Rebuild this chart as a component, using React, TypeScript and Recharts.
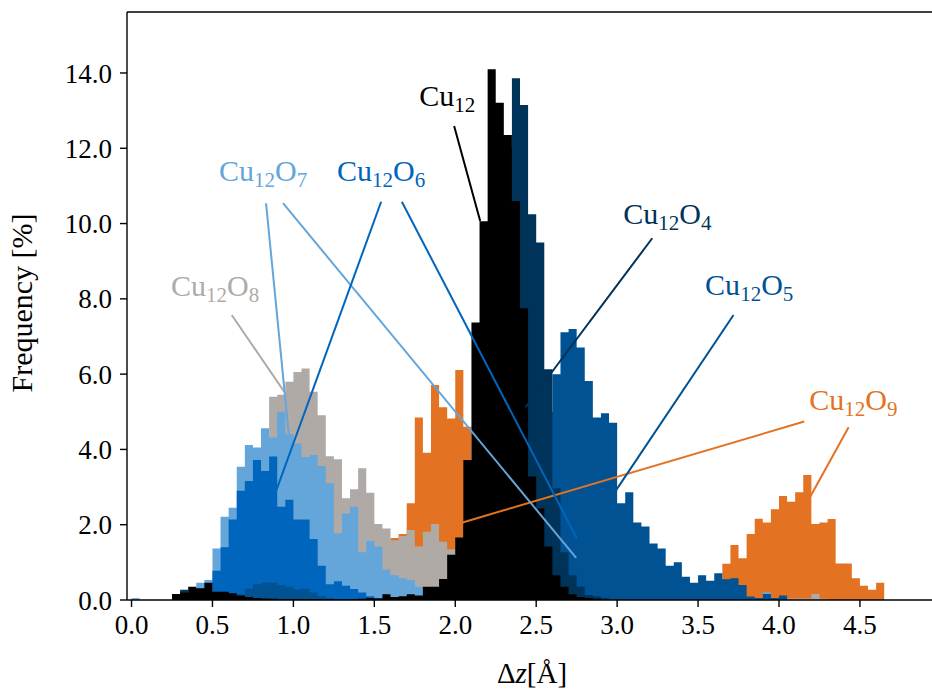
import React from "react";
import {
  ComposedChart,
  Area,
  XAxis,
  YAxis,
  ReferenceLine,
  ReferenceDot,
  Label,
} from "recharts";

// histogram bin width in Å
const BIN = 0.05;

// bin heights [%]; each run of bins starts at the given left edge
const cu12Start = 0.25;
const cu12Freq = [
  0.16, 0.2, 0.35, 0.31, 0.46, 0.22, 0.22, 0.18, 0.12, 0.08, 0.05, 0.04, 0.03,
  0.02, 0.02, 0.02, 0.02, 0.02, 0.02, 0.02, 0.02, 0.02, 0.02, 0.03, 0.05, 0.04,
  0.15, 0.08, 0.1, 0.15, 0.12, 0.35, 0.35, 0.56, 1.2, 1.66, 3.72, 7.37, 10.06,
  14.1, 13.21, 12.35, 10.6, 7.75, 3.28, 2.43, 1.42, 0.66, 0.35, 0.15, 0.08,
  0.05, 0.03,
];

const cu12o4LowStart = 0.3;
const cu12o4Low = [0.27, 0.1, 0.05, 0.02];
const cu12o4Start = 1.8;
const cu12o4Freq = [
  0.05, 0.1, 0.2, 0.5, 1.0, 2.0, 3.5, 5.5, 8.0, 10.5, 12.0, 13.86, 13.15,
  10.25, 9.5, 6.13, 2.97, 1.27, 0.66, 0.35, 0.13, 0.09, 0.05,
];

const cu12o5LowStart = 0.6;
const cu12o5Low = [
  0.08, 0.15, 0.3, 0.42, 0.46, 0.46, 0.4, 0.35, 0.28, 0.3, 0.2, 0.1, 0.05,
];
const cu12o5Start = 2.2;
const cu12o5Freq = [
  0.03, 0.05, 0.5, 1.2, 2.2, 3.2, 4.2, 5.0, 6.0, 7.11, 7.2, 6.71, 5.82, 4.85,
  4.96, 4.71, 2.57, 2.86, 2.06, 1.95, 1.5, 1.37, 0.91, 1.0, 0.62, 0.46, 0.66,
  0.51, 0.71, 0.55, 0.58, 0.4, 0.09, 0.05, 0.16, 0.05, 0.12,
];

const cu12o6Start = 0.5;
const cu12o6Freq = [
  0.78, 1.4, 2.14, 2.9, 3.16, 3.72, 3.43, 3.81, 2.48, 2.66, 2.14, 2.14, 1.62,
  0.91, 0.42, 0.5, 0.38, 0.29, 0.2, 0.1, 0.05, 0.03,
];

const cu12o7ZeroBin = [0.05];
const cu12o7Start = 0.4;
const cu12o7Freq = [
  0.46, 0.53, 1.37, 2.21, 2.45, 3.54, 4.12, 4.05, 4.56, 4.32, 5.0, 4.4, 4.16,
  3.8, 3.85, 3.56, 3.1, 1.77, 2.3, 2.48, 1.27, 1.57, 1.42, 0.81, 0.66, 0.58,
  0.53, 0.35, 0.2, 0.1, 0.05,
];
const cu12o7FarStart = 3.9;
const cu12o7Far = [0.2];

const cu12o8Start = 0.5;
const cu12o8Freq = [
  0.6, 1.0, 1.5, 2.2, 2.8, 3.4, 4.3, 5.4, 5.45, 5.8, 6.06, 6.15, 5.53, 4.91,
  3.82, 3.74, 2.7, 2.94, 3.5, 2.85, 2.02, 1.9, 1.59, 1.7, 1.86, 1.42, 1.81,
  2.02, 1.55, 1.35, 1.0, 0.6, 0.3, 0.1,
];
const cu12o8FarStart = 3.9;
const cu12o8Far = [0.2, 0.04, 0.04, 0.04, 0.04, 0.04, 0.16, 0.03];

const cu12o9Start = 1.55;
const cu12o9Freq = [
  0.8, 1.65, 1.75, 2.57, 4.85, 3.91, 5.71, 5.12, 4.82, 6.11, 4.6, 3.0, 2.0, 1.2,
  0.6, 0.3, 0.1,
];
const cu12o9FarStart = 3.6;
const cu12o9Far = [
  0.3, 0.96, 1.46, 1.11, 1.75, 2.16, 2.06, 2.41, 2.76, 2.61, 2.86, 3.32, 2.02,
  2.06, 2.15, 0.97, 0.97, 0.58, 0.38, 0.27, 0.46,
];

const xTicks = [0, 0.5, 1, 1.5, 2, 2.5, 3, 3.5, 4, 4.5];
const yTicks = [0, 2, 4, 6, 8, 10, 12, 14];
const X_DOMAIN: [number, number] = [-0.028, 4.97];
const Y_MAX = 15.62;

const FONT = "'Liberation Serif', 'DejaVu Serif', serif";

type Run = [number, number[]];

interface Series {
  key: string;
  formula: [string, string][];
  color: string;
  runs: Run[];
  // label anchor (text baseline centre) and pointer segments, in data units
  label: [number, number];
  pointers: [number, number, number, number][];
}

// drawn back to front
const series: Series[] = [
  {
    key: "Cu12O9",
    formula: [["Cu", "12"], ["O", "9"]],
    color: "#E37222",
    runs: [
      [cu12o9Start, cu12o9Freq],
      [cu12o9FarStart, cu12o9Far],
    ],
    label: [4.459, 5.05],
    pointers: [
      [4.156, 4.74, 2.045, 2.06],
      [4.43, 4.59, 4.193, 2.74],
    ],
  },
  {
    key: "Cu12O8",
    formula: [["Cu", "12"], ["O", "8"]],
    color: "#B0AAA7",
    runs: [
      [cu12o8Start, cu12o8Freq],
      [cu12o8FarStart, cu12o8Far],
    ],
    label: [0.516, 8.07],
    pointers: [[0.619, 7.57, 0.944, 5.53]],
  },
  {
    key: "Cu12O7",
    formula: [["Cu", "12"], ["O", "7"]],
    color: "#64A5DA",
    runs: [
      [0, cu12o7ZeroBin],
      [cu12o7Start, cu12o7Freq],
      [cu12o7FarStart, cu12o7Far],
    ],
    label: [0.813, 11.13],
    pointers: [
      [0.831, 10.54, 0.98, 4.03],
      [0.936, 10.54, 2.747, 1.12],
    ],
  },
  {
    key: "Cu12O6",
    formula: [["Cu", "12"], ["O", "6"]],
    color: "#0065BD",
    runs: [[cu12o6Start, cu12o6Freq]],
    label: [1.542, 11.13],
    pointers: [
      [1.542, 10.58, 0.895, 2.92],
      [1.67, 10.58, 2.751, 1.64],
    ],
  },
  {
    key: "Cu12O5",
    formula: [["Cu", "12"], ["O", "5"]],
    color: "#005293",
    runs: [
      [cu12o5LowStart, cu12o5Low],
      [cu12o5Start, cu12o5Freq],
    ],
    label: [3.816, 8.1],
    pointers: [[3.719, 7.57, 2.994, 2.92]],
  },
  {
    key: "Cu12O4",
    formula: [["Cu", "12"], ["O", "4"]],
    color: "#003359",
    runs: [
      [cu12o4LowStart, cu12o4Low],
      [cu12o4Start, cu12o4Freq],
    ],
    label: [3.31, 9.99],
    pointers: [[3.217, 9.61, 2.434, 5.12]],
  },
  {
    key: "Cu12",
    formula: [["Cu", "12"]],
    color: "#000000",
    runs: [[cu12Start, cu12Freq]],
    label: [1.95, 13.12],
    pointers: [[1.993, 12.59, 2.154, 10.07]],
  },
];

// step points: left edge of each bin, plus a closing edge dropping to zero
const toSteps = ([start, freq]: Run) => {
  const pts = freq.map((f, i) => ({ x: +(start + i * BIN).toFixed(3), y: f }));
  pts.push({ x: +(start + freq.length * BIN).toFixed(3), y: 0 });
  return pts;
};

const Formula = ({
  cx,
  cy,
  parts,
  color,
}: {
  cx?: number;
  cy?: number;
  parts: [string, string][];
  color: string;
}) => (
  <text
    x={cx}
    y={cy}
    textAnchor="middle"
    fontFamily={FONT}
    fontSize={30}
    fill={color}
  >
    {parts.map(([base, sub], i) => (
      <React.Fragment key={i}>
        <tspan dy={i > 0 ? -6 : 0}>{base}</tspan>
        <tspan fontSize={21} dy={6}>
          {sub}
        </tspan>
      </React.Fragment>
    ))}
  </text>
);

const tickStyle = { fontFamily: FONT, fontSize: 27, fill: "#000" };

export default function App() {
  return (
    <div
      style={{
        position: "absolute",
        left: 0,
        top: 0,
        width: 932,
        height: 691,
        overflow: "hidden",
        background: "#fff",
      }}
    >
      <ComposedChart
        width={940}
        height={691}
        margin={{ top: 12, right: 4, bottom: 31, left: 67 }}
      >
        <XAxis
          type="number"
          dataKey="x"
          domain={X_DOMAIN}
          ticks={xTicks}
          allowDataOverflow
          tickFormatter={(v: number) => v.toFixed(1)}
          tick={tickStyle}
          tickSize={7}
          tickMargin={8}
          height={60}
          axisLine={{ stroke: "#000", strokeWidth: 1.4 }}
          tickLine={{ stroke: "#000", strokeWidth: 1.4 }}
        >
          <Label
            content={() => (
              <text
                x={532}
                y={683}
                textAnchor="middle"
                fontFamily={FONT}
                fontSize={29}
                fill="#000"
              >
                Δ<tspan fontStyle="italic">z</tspan>[Å]
              </text>
            )}
          />
        </XAxis>
        <YAxis
          type="number"
          domain={[0, Y_MAX]}
          ticks={yTicks}
          allowDataOverflow
          tickFormatter={(v: number) => v.toFixed(1)}
          tick={tickStyle}
          tickSize={7}
          tickMargin={8}
          width={60}
          axisLine={{ stroke: "#000", strokeWidth: 1.4 }}
          tickLine={{ stroke: "#000", strokeWidth: 1.4 }}
        >
          <Label
            content={() => (
              <text
                x={32}
                y={303}
                transform="rotate(-90 32 303)"
                textAnchor="middle"
                fontFamily={FONT}
                fontSize={30}
                fill="#000"
              >
                Frequency [%]
              </text>
            )}
          />
        </YAxis>

        {series.map((s) =>
          s.runs.map((run, i) => (
            <Area
              key={`${s.key}-${i}`}
              data={toSteps(run)}
              dataKey="y"
              type="stepAfter"
              fill={s.color}
              fillOpacity={1}
              stroke="none"
              dot={false}
              activeDot={false}
              isAnimationActive={false}
            />
          ))
        )}

        {/* top spine */}
        <ReferenceLine y={Y_MAX} stroke="#000" strokeWidth={1.4} />

        {series.map((s) =>
          s.pointers.map((p, i) => (
            <ReferenceLine
              key={`${s.key}-p${i}`}
              segment={[
                { x: p[0], y: p[1] },
                { x: p[2], y: p[3] },
              ]}
              stroke={s.color}
              strokeWidth={2}
              ifOverflow="visible"
            />
          ))
        )}

        {series.map((s) => (
          <ReferenceDot
            key={`${s.key}-label`}
            x={s.label[0]}
            y={s.label[1]}
            r={0}
            ifOverflow="visible"
            shape={(props: any) => (
              <Formula
                cx={props.cx}
                cy={props.cy}
                parts={s.formula}
                color={s.color}
              />
            )}
          />
        ))}
      </ComposedChart>
    </div>
  );
}
